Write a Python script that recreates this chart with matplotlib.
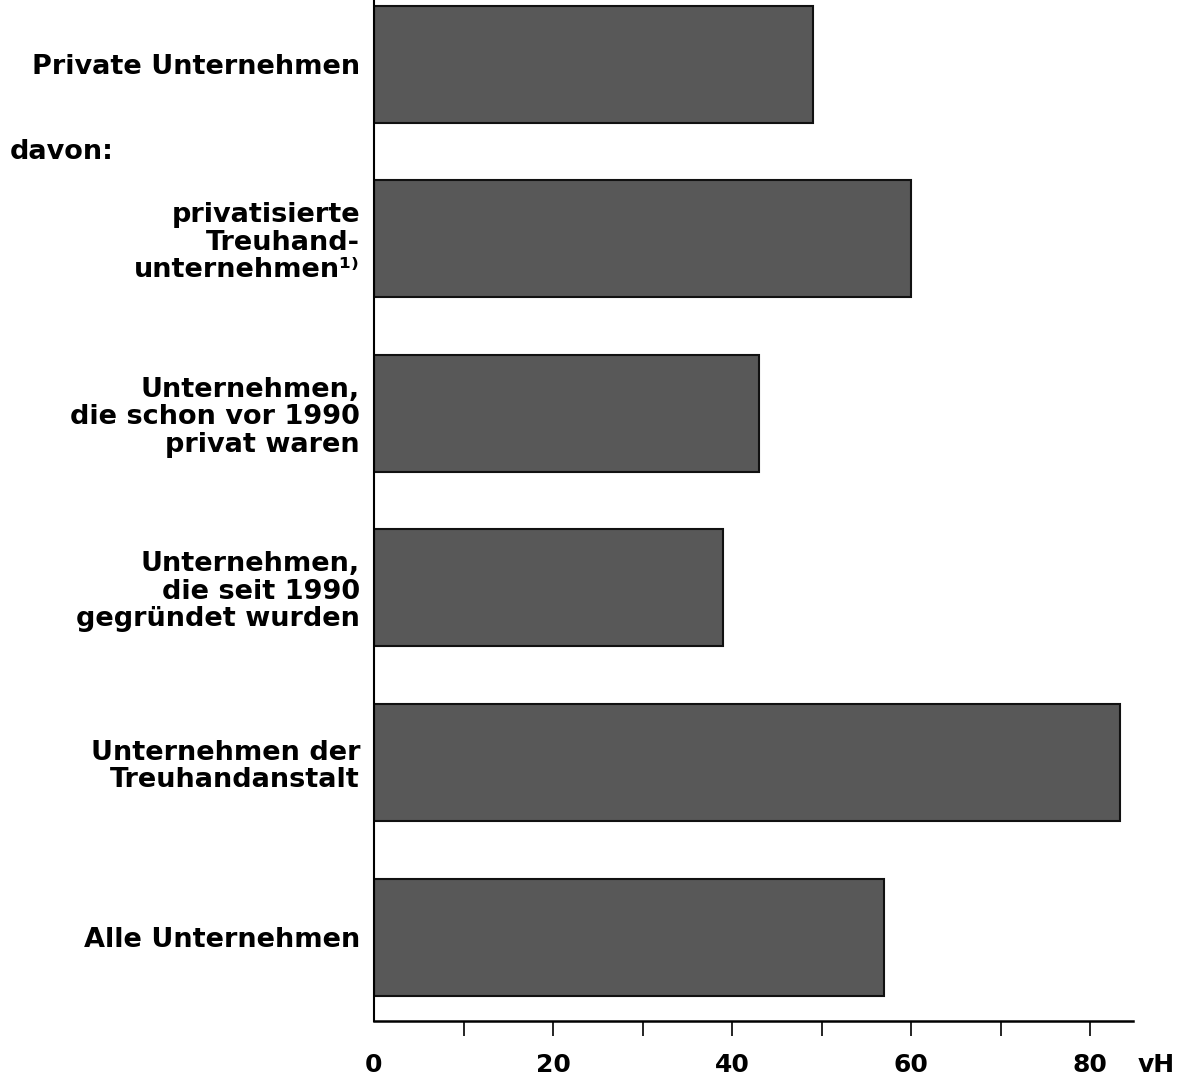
import matplotlib
matplotlib.use("Agg")
import matplotlib.pyplot as plt

categories = [
    "Private Unternehmen",
    "privatisierte\nTreuhand-\nunternehmen¹⁾",
    "Unternehmen,\ndie schon vor 1990\nprivat waren",
    "Unternehmen,\ndie seit 1990\ngegründet wurden",
    "Unternehmen der\nTreuhandanstalt",
    "Alle Unternehmen",
]
values = [49, 60, 43, 39, 83.3, 57]
xtick_values = [0, 10, 20, 30, 40, 50, 60, 70, 80]
xtick_labels = ["0", "", "20", "", "40", "", "60", "", "80"]
unit_label = "vH"
davon_label = "davon:"

plt.rcParams['font.family'] = ['DejaVu Sans']

fig = plt.figure(figsize=(11.9, 10.8), dpi=100)
ax = fig.add_axes([374/1190, 1 - 1021/1080, (1133-374)/1190, 1021/1080])

ypos = list(range(len(categories)))
ax.barh(ypos, values, height=0.67, color="#585858", edgecolor="#111111", linewidth=1.5)

ax.set_xlim(0, 84.8)
ax.set_ylim(5.48, -0.367)

ax.set_yticks(ypos)
ax.set_yticklabels(categories, fontsize=19.5, fontweight="bold", linespacing=1.08)
ax.tick_params(axis="y", length=0, pad=10)

ax.set_xticks(xtick_values)
ax.set_xticklabels(xtick_labels, fontsize=18, fontweight="bold")
ax.tick_params(axis="x", length=11, width=1.2, pad=12, direction="out")
ax.xaxis.get_major_ticks()[0].tick1line.set_visible(False)

for s in ["top", "right"]:
    ax.spines[s].set_visible(False)
ax.spines["left"].set_linewidth(1.5)
ax.spines["bottom"].set_linewidth(1.8)

fig.text(10/1190, 1 - 152/1080, davon_label, fontsize=19.5, fontweight="bold",
         ha="left", va="center")

fig.canvas.draw()
tl = ax.xaxis.get_ticklabels()[0]
bb = tl.get_window_extent()
fig.text(1138/1190, (bb.y0 + bb.y1) / 2 / fig.bbox.height, unit_label, fontsize=18,
         fontweight="bold", ha="left", va="center")

fig.savefig("out.png", dpi=100, facecolor="white")
